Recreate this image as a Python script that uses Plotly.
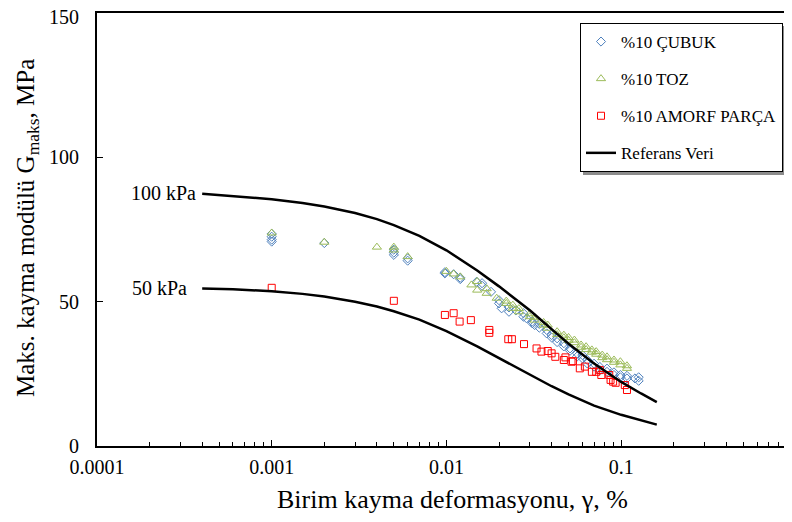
import plotly.graph_objects as go
import math

# ---- data ----
cubuk_x = [0.001, 0.001, 0.001, 0.001, 0.002, 0.005, 0.005, 0.005, 0.006, 0.006,
           0.0098, 0.0098, 0.011, 0.012, 0.012, 0.0149, 0.016, 0.016, 0.018, 0.020,
           0.020, 0.0207, 0.0228, 0.0228, 0.025, 0.0276, 0.0276, 0.0288, 0.031, 0.031,
           0.032, 0.034, 0.034, 0.0375, 0.0375, 0.040, 0.040, 0.043, 0.043, 0.047,
           0.047, 0.051, 0.051, 0.056, 0.056, 0.060, 0.060, 0.064, 0.064, 0.070,
           0.070, 0.0755, 0.0755, 0.083, 0.083, 0.091, 0.091, 0.099, 0.099, 0.108,
           0.108, 0.120, 0.126, 0.126]
cubuk_y = [73.5, 72.5, 71.5, 70.8, 70.3, 68.0, 67.0, 66.2, 65.0, 64.2,
           60.2, 59.8, 59.5, 58.3, 57.8, 56.9, 56.4, 55.5, 53.4, 49.4,
           50.5, 47.7, 46.5, 48.0, 47.0, 46.0, 44.8, 44.2, 43.1, 42.5,
           41.9, 41.0, 42.3, 40.2, 39.0, 38.4, 37.6, 37.3, 36.0, 35.6,
           34.5, 33.8, 33.0, 32.1, 31.0, 30.4, 31.5, 28.6, 29.8, 27.5,
           28.5, 26.3, 27.4, 25.7, 26.8, 24.6, 25.5, 24.6, 23.8, 23.4,
           24.3, 23.4, 22.6, 23.8]

toz_x = [0.001, 0.002, 0.004, 0.005, 0.005, 0.006, 0.010, 0.011, 0.012, 0.0139,
         0.015, 0.015, 0.017, 0.017, 0.0194, 0.022, 0.022, 0.024, 0.024, 0.026,
         0.026, 0.030, 0.030, 0.032, 0.032, 0.036, 0.036, 0.038, 0.038, 0.043,
         0.043, 0.047, 0.047, 0.050, 0.050, 0.054, 0.054, 0.059, 0.059, 0.063,
         0.063, 0.068, 0.068, 0.072, 0.072, 0.078, 0.078, 0.083, 0.083, 0.091,
         0.091, 0.099, 0.099, 0.108, 0.108]
toz_y = [73.8, 70.6, 68.9, 68.9, 67.9, 65.6, 60.5, 59.6, 58.6, 55.8,
         57.0, 54.0, 52.9, 54.5, 51.2, 49.4, 50.2, 47.7, 48.8, 46.5,
         47.6, 44.8, 45.8, 43.6, 44.6, 41.9, 42.8, 41.9, 40.8, 39.6,
         38.6, 38.4, 37.5, 37.6, 36.6, 36.7, 35.8, 35.0, 34.2, 34.4,
         33.4, 33.3, 32.5, 32.7, 31.8, 31.5, 30.6, 30.9, 29.9, 29.8,
         29.0, 28.1, 29.2, 26.9, 27.8]

amorf_x = [0.001, 0.005, 0.0098, 0.011, 0.0119, 0.0138, 0.0176, 0.0176, 0.0226, 0.0237,
           0.0278, 0.0328, 0.035, 0.038, 0.040, 0.042, 0.047, 0.048, 0.052, 0.053,
           0.058, 0.062, 0.068, 0.072, 0.0755, 0.077, 0.0855, 0.087, 0.090, 0.093,
           0.105, 0.108]
amorf_y = [54.8, 50.3, 45.4, 46.0, 43.1, 43.6, 40.2, 39.2, 37.0, 37.0,
           35.3, 33.8, 32.7, 32.9, 32.1, 30.9, 29.8, 30.7, 29.2, 29.4,
           26.9, 27.5, 25.7, 25.7, 26.3, 24.6, 24.6, 22.9, 22.3, 21.9,
           21.1, 19.4]

ref_x = [0.0004, 0.0006, 0.001, 0.0015, 0.002, 0.003, 0.004, 0.005, 0.007, 0.01,
         0.015, 0.02, 0.03, 0.04, 0.05, 0.07, 0.1, 0.13, 0.16]
ref100_y = [87.4, 86.6, 85.5, 84.2, 83.0, 80.7, 78.6, 76.5, 72.8, 67.8,
            60.8, 55.3, 47.0, 40.5, 35.4, 28.6, 22.2, 18.2, 15.2]
ref50_y = [54.6, 54.3, 53.6, 52.7, 51.8, 50.0, 48.3, 46.7, 43.8, 39.8,
           34.5, 30.4, 24.6, 20.7, 17.9, 14.0, 10.8, 8.8, 7.4]

x_tick_vals = [0.0001, 0.001, 0.01, 0.1]
x_tick_text = ["0.0001", "0.001", "0.01", "0.1"]
y_tick_vals = [0, 50, 100, 150]
y_tick_text = ["0", "50", "100", "150"]

FONT = "Liberation Serif"

# The page body adds an 8 px offset; work in screen pixels and convert.
OFF = 8
W, H = 792 - OFF, 522 - OFF
PL, PR, PT, PB = 97, 792, 13, 446          # plot area in screen pixels
ML, MR, MT, MB = PL - OFF, (792 - OFF) - (PR - OFF), PT - OFF, H - (PB - OFF)
PW, PH = PR - PL, PB - PT

def px_x(p):   # screen px -> paper x
    return (p - PL) / PW
def px_y(p):   # screen px -> paper y
    return (PB - p) / PH

fig = go.Figure()
fig.add_trace(go.Scatter(
    x=cubuk_x, y=cubuk_y, mode="markers", name="%10 ÇUBUK", legendgroup="a",
    marker=dict(symbol="diamond-open", size=7, color="#4F81BD", line=dict(width=1))))
fig.add_trace(go.Scatter(
    x=toz_x, y=toz_y, mode="markers", name="%10 TOZ", legendgroup="b",
    marker=dict(symbol="triangle-up-open", size=8, color="#9BBB59", line=dict(width=1))))
fig.add_trace(go.Scatter(
    x=amorf_x, y=amorf_y, mode="markers", name="%10 AMORF PARÇA", legendgroup="c",
    marker=dict(symbol="square-open", size=7, color="#FF0000", line=dict(width=1))))
fig.add_trace(go.Scatter(
    x=ref_x + [None] + ref_x, y=ref100_y + [None] + ref50_y, mode="lines",
    name="Referans Veri", legendgroup="d",
    line=dict(color="black", width=2.5)))

fig.add_annotation(x=math.log10(0.000378), y=87.6, text="100 kPa", showarrow=False,
                   xanchor="right", yanchor="middle", font=dict(family=FONT, size=20, color="black"))
fig.add_annotation(x=math.log10(0.000335), y=54.6, text="50 kPa", showarrow=False,
                   xanchor="right", yanchor="middle", font=dict(family=FONT, size=20, color="black"))

# y tick labels (placed away from the axis as in the reference)
for v, t in zip(y_tick_vals, y_tick_text):
    fig.add_annotation(xref="paper", yref="y", x=px_x(81), y=v, text=t, showarrow=False,
                       xanchor="right", yanchor="middle",
                       yshift=-4 if v == max(y_tick_vals) else 0,
                       font=dict(family=FONT, size=20, color="black"))

# axis titles
fig.add_annotation(xref="paper", yref="paper", x=px_x(453), y=px_y(499),
                   text="Birim kayma deformasyonu, γ, %", showarrow=False,
                   xanchor="center", yanchor="middle", font=dict(family=FONT, size=26, color="black"))
fig.add_annotation(xref="paper", yref="paper", x=px_x(27), y=px_y(228),
                   text="Maks. kayma modülü G<sub>maks</sub>, MPa", showarrow=False, textangle=-90,
                   xanchor="center", yanchor="middle", font=dict(family=FONT, size=25, color="black"))

# legend box (screen px) and its shadow
LX0, LY0, LX1, LY1 = 580, 23, 784, 172
fig.add_shape(type="rect", xref="paper", yref="paper",
              x0=px_x(LX0 + 3), x1=px_x(LX1 + 3), y0=px_y(LY1 + 3), y1=px_y(LY0 + 3),
              line=dict(width=0), fillcolor="#8c8c8c", layer="above")

fig.update_layout(
    width=W, height=H,
    margin=dict(l=ML, r=MR, t=MT, b=MB, autoexpand=False),
    paper_bgcolor="white", plot_bgcolor="white",
    font=dict(family=FONT, size=20, color="black"),
    showlegend=True,
    legend=dict(x=px_x(LX0), y=px_y(LY0), xanchor="left", yanchor="top",
                bgcolor="white", bordercolor="black", borderwidth=1,
                font=dict(family=FONT, size=17, color="black"),
                tracegroupgap=12),
    xaxis=dict(type="log", range=[-4, -0.022], showline=True, linecolor="black", linewidth=2,
               mirror=True, ticks="inside", ticklen=6, tickcolor="black", automargin=False,
               tickvals=x_tick_vals, ticktext=x_tick_text, showgrid=False, zeroline=False,
               tickfont=dict(family=FONT, size=20), ticklabelstandoff=2,
               minor=dict(ticks="inside", ticklen=4, tickcolor="black",
                          tickvals=[m * 10 ** e for e in range(-4, 0) for m in range(2, 10)])),
    yaxis=dict(range=[0, 150], tickvals=y_tick_vals, showline=True, linecolor="black", linewidth=2,
               ticks="inside", ticklen=6, tickcolor="black", showgrid=False, zeroline=False,
               automargin=False, showticklabels=False),
)

fig.write_html("out.html")
